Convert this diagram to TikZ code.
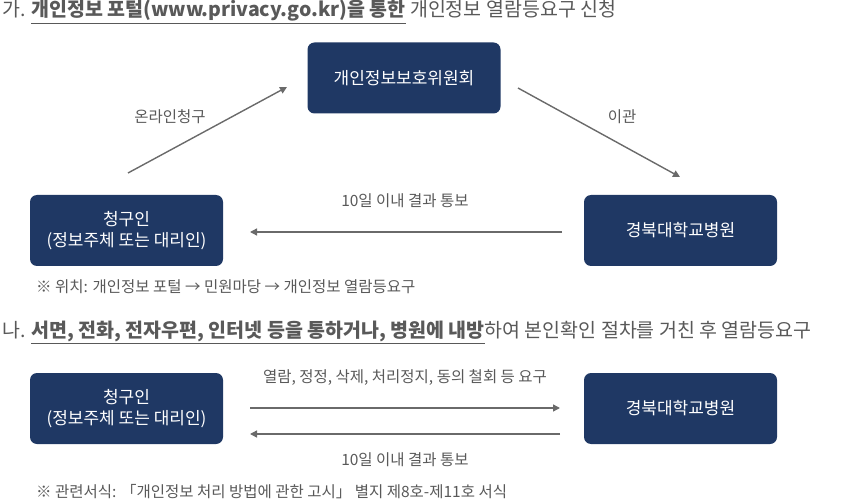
\documentclass[tikz,border=0pt]{standalone}
\usepackage{fontspec}
\setmainfont{Noto Sans CJK KR}
\usetikzlibrary{arrows.meta}
\definecolor{navy}{HTML}{1F3864}
\definecolor{txtgray}{HTML}{595959}
\tikzset{
  box/.style={draw=none, fill=navy, rounded corners=7pt, minimum width=193pt, minimum height=71pt,
    text=white, font=\fontsize{17}{21}\selectfont, align=center},
  conn/.style={draw=txtgray!90, line width=1.4pt, -{Triangle[length=7pt,width=7pt]}},
  lbl/.style={text=txtgray, font=\fontsize{15.5}{18}\selectfont},
  head/.style={text=txtgray, font=\fontsize{19.5}{22}\selectfont, anchor=west, inner sep=0pt},
  note/.style={text=txtgray, font=\fontsize{15.5}{18}\selectfont, anchor=west, inner sep=0pt}
}
\newcommand{\bu}[1]{\underline{\textbf{#1}}}
\begin{document}
\begin{tikzpicture}[x=1pt,y=-1pt]
\useasboundingbox (0,0) rectangle (850,502);

% part 1
\node[head] (headA) at (2,12) {가. \bu{개인정보 포털(www.privacy.go.kr)을 통한} 개인정보 열람등요구 신청};
\node[box] (pipc) at (404,78) {개인정보보호위원회};
\node[box] (userA) at (126.5,230.5) {청구인\\(정보주체 또는 대리인)};
\node[box] (hospA) at (680.5,230.5) {경북대학교병원};

\coordinate (onS) at (128,173);
\coordinate (onE) at (287,87);
\coordinate (trS) at (518,88);
\coordinate (trE) at (680,177);
\coordinate (rsS) at (562,232);
\coordinate (rsE) at (250,232);
\draw[conn] (onS) -- (onE);
\draw[conn] (trS) -- (trE);
\draw[conn] (rsS) -- (rsE);
\node[lbl] (lonl) at (170,117) {온라인청구};
\node[lbl] (ltr) at (622,117) {이관};
\node[lbl] (lrsA) at (405,201) {10일 이내 결과 통보};
\node[note] (noteA) at (36,287) {※ 위치: 개인정보 포털 → 민원마당 → 개인정보 열람등요구};

% part 2
\node[head] (headB) at (2,332) {나. \bu{서면, 전화, 전자우편, 인터넷 등을 통하거나, 병원에 내방}하여 본인확인 절차를 거친 후 열람등요구};
\node[box] (userB) at (126.5,408.5) {청구인\\(정보주체 또는 대리인)};
\node[box] (hospB) at (680.5,408.5) {경북대학교병원};

\coordinate (rqS) at (250,408);
\coordinate (rqE) at (560,408);
\coordinate (rbS) at (560,434);
\coordinate (rbE) at (250,434);
\draw[conn] (rqS) -- (rqE);
\draw[conn] (rbS) -- (rbE);
\node[lbl] (lrq) at (405,378) {열람, 정정, 삭제, 처리정지, 동의 철회 등 요구};
\node[lbl] (lrsB) at (405,460) {10일 이내 결과 통보};
\node[note] (noteB) at (36,492) {※ 관련서식: 「개인정보 처리 방법에 관한 고시」 별지 제8호-제11호 서식};
\end{tikzpicture}
\end{document}
